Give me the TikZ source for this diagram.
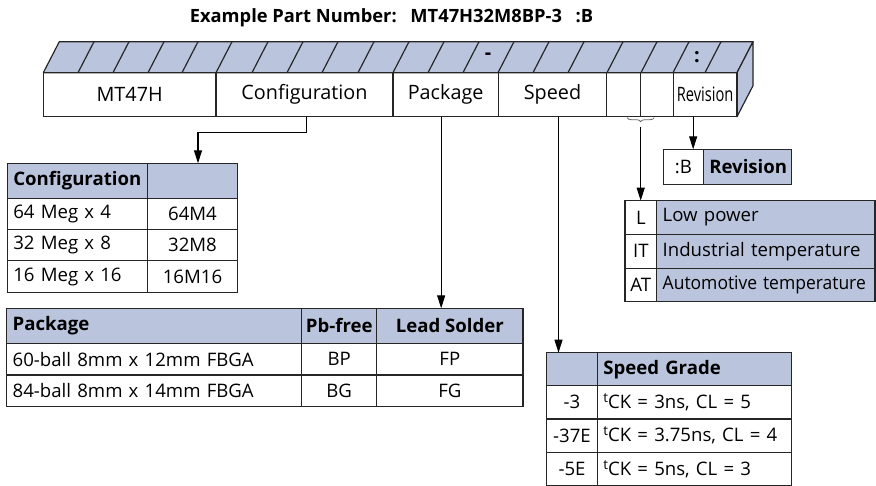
\documentclass[tikz,border=0pt]{standalone}
\usepackage{fontspec}
\setmainfont{Open Sans}
\usetikzlibrary{positioning,arrows.meta,decorations.pathreplacing}
\definecolor{hdrblue}{RGB}{186,197,221}
\newcommand{\cellfont}{\fontsize{18.6}{20}\selectfont}
\newcommand{\boxfont}{\fontsize{19.8}{21}\selectfont}
\newcommand{\titlefont}{\fontsize{18.3}{20}\selectfont}
\newcommand{\tck}{\raisebox{6pt}{\fontsize{13.5}{14}\selectfont t}CK}
\hyphenpenalty=10000
\tikzset{cell/.style={draw=black!85, line width=1.1pt, inner xsep=0pt, inner ysep=0pt, outer sep=0pt, font=\cellfont},
	hcell/.style={cell, fill=hdrblue, font=\cellfont\bfseries},
	lcell/.style={inner xsep=6pt, align=left},
	arr/.style={line width=1.1pt, -{Triangle[length=13pt,width=8pt]}}
}

\begin{document}
\begin{tikzpicture}[x=1pt,y=-1pt]
\tikzstyle{face} = [draw=black!85, line width=1.2pt, fill=hdrblue, line join=round]
\tikzstyle{bcell} = [cell, line width=1.2pt, font=\boxfont, minimum height=44pt]
\useasboundingbox (0,0) rectangle (876,486);

\node[font=\titlefont\bfseries] (title) at (391.5,18) {Example Part Number:\hspace{0.75em}MT47H32M8BP-3\hspace{0.75em}:B};

% top and side of the part number box
\filldraw[face] (43.3,72.7) -- (59.3,41.7) -- (753,41.7) -- (737,72.7) -- cycle;
\filldraw[face] (737,72.7) -- (753,41.7) -- (753,85.7) -- (737,116.7) -- cycle;
\foreach \x in {78,113,148,182,216,252,287,322,358,393,428,463,498,533,568,607,641,673,705}
	\draw[line width=1.2pt, draw=black!85] (\x,72.7) -- ++(16,-31);
\node[font=\boxfont\bfseries] (dash) at (488,56) {-};
\node[font=\boxfont\bfseries] (colon) at (697,57) {:};

% front of the box
\node[bcell, anchor=north west, minimum width=172.7pt] (b1) at (43.3,72.7) {MT47H};
\node[bcell, right=0pt of b1, minimum width=177pt] (b2) {Configuration};
\node[bcell, right=0pt of b2, minimum width=105.3pt] (b3) {Package};
\node[bcell, right=0pt of b3, minimum width=108.4pt] (b4) {Speed};
\node[bcell, right=0pt of b4, minimum width=34pt] (b5) {};
\node[bcell, right=0pt of b5, minimum width=32.6pt] (b6) {};
\node[bcell, right=0pt of b6, minimum width=63.7pt] (b7) {\scalebox{0.74}[1]{Revision}};

% configuration table
\node[hcell, lcell, anchor=north west, text width=128.4pt, minimum height=35pt] (ch1) at (7.3,163.3) {Configuration};
\node[hcell, right=0pt of ch1, minimum width=89.6pt, minimum height=35pt] (ch2) {};
\node[cell, lcell, below=0pt of ch1, text width=128.4pt, minimum height=31.3pt] (c11) {64 Meg x 4};
\node[cell, right=0pt of c11, minimum width=89.6pt, minimum height=31.3pt] (c12) {64M4};
\node[cell, lcell, below=0pt of c11, text width=128.4pt, minimum height=31.3pt] (c21) {32 Meg x 8};
\node[cell, right=0pt of c21, minimum width=89.6pt, minimum height=31.3pt] (c22) {32M8};
\node[cell, lcell, below=0pt of c21, text width=128.4pt, minimum height=31.3pt] (c31) {16 Meg x 16};
\node[cell, right=0pt of c31, minimum width=89.6pt, minimum height=31.3pt] (c32) {16M16};

% package table
\node[hcell, lcell, anchor=north west, text width=283pt, minimum height=35pt] (ph1) at (6.7,308.3) {Package};
\node[hcell, right=0pt of ph1, minimum width=75pt, minimum height=35pt] (ph2) {Pb-free};
\node[hcell, right=0pt of ph2, minimum width=146.3pt, minimum height=35pt] (ph3) {Lead Solder};
\node[cell, lcell, below=0pt of ph1, text width=283pt, minimum height=31.7pt] (p11) {60-ball 8mm x 12mm FBGA};
\node[cell, right=0pt of p11, minimum width=75pt, minimum height=31.7pt] (p12) {BP};
\node[cell, right=0pt of p12, minimum width=146.3pt, minimum height=31.7pt] (p13) {FP};
\node[cell, lcell, below=0pt of p11, text width=283pt, minimum height=31.7pt] (p21) {84-ball 8mm x 14mm FBGA};
\node[cell, right=0pt of p21, minimum width=75pt, minimum height=31.7pt] (p22) {BG};
\node[cell, right=0pt of p22, minimum width=146.3pt, minimum height=31.7pt] (p23) {FG};

% speed grade table
\node[hcell, anchor=north west, minimum width=50.6pt, minimum height=33pt] (sh1) at (546.7,352.7) {};
\node[hcell, lcell, right=0pt of sh1, text width=182.4pt, minimum height=33pt] (sh2) {Speed Grade};
\node[cell, below=0pt of sh1, minimum width=50.6pt, minimum height=33.3pt] (s11) {-3};
\node[cell, lcell, right=0pt of s11, text width=182.4pt, minimum height=33.3pt] (s12) {\tck{} = 3ns, CL = 5};
\node[cell, below=0pt of s11, minimum width=50.6pt, minimum height=33.3pt] (s21) {-37E};
\node[cell, lcell, right=0pt of s21, text width=182.4pt, minimum height=33.3pt] (s22) {\tck{} = 3.75ns, CL = 4};
\node[cell, below=0pt of s21, minimum width=50.6pt, minimum height=33.3pt] (s31) {-5E};
\node[cell, lcell, right=0pt of s31, text width=182.4pt, minimum height=33.3pt] (s32) {\tck{} = 5ns, CL = 3};

% low power / temperature table
\node[cell, anchor=north west, minimum width=31.7pt, minimum height=33.7pt] (l1) at (625,200.7) {L};
\node[cell, lcell, fill=hdrblue, right=0pt of l1, text width=206.3pt, minimum height=33.7pt] (l12) {Low power};
\node[cell, below=0pt of l1, minimum width=31.7pt, minimum height=33.7pt] (l2) {IT};
\node[cell, lcell, fill=hdrblue, right=0pt of l2, text width=206.3pt, minimum height=33.7pt] (l22) {\mbox{Industrial temperature}};
\node[cell, below=0pt of l2, minimum width=31.7pt, minimum height=33.7pt] (l3) {AT};
\node[cell, lcell, fill=hdrblue, right=0pt of l3, text width=206.3pt, minimum height=33.7pt] (l32) {\scalebox{0.94}[1]{Automotive temperature}};

% revision table
\node[cell, anchor=north west, minimum width=40pt, minimum height=35pt] (r1) at (663.3,149.3) {:B};
\node[hcell, lcell, right=0pt of r1, text width=76.4pt, minimum height=35pt] (r2) {Revision};

%Lines
\draw[arr] ([xshift=2pt]b2.south) -- ++(0,16) -| ([xshift=5.5pt]ch2.north);
\draw[arr] ([xshift=-4.5pt]b3.south) -- ([xshift=-4.5pt]b3.south |- ph3.north);
\draw[arr] ([xshift=6pt]b4.south) -- ([xshift=6pt]b4.south |- sh1.north);
\draw[black!60, line width=0.8pt, decorate, decoration={brace, amplitude=4pt}] ([xshift=13.5pt, yshift=-1pt]b5.south east) -- ([xshift=-13.5pt, yshift=-1pt]b5.south east);
\draw[arr] ([yshift=-10pt]b5.south east) -- (b5.south east |- l1.north);
\draw[arr] ([xshift=-12pt]b7.south) -- ([xshift=-12pt]b7.south |- r1.north);
\end{tikzpicture}
\end{document}
